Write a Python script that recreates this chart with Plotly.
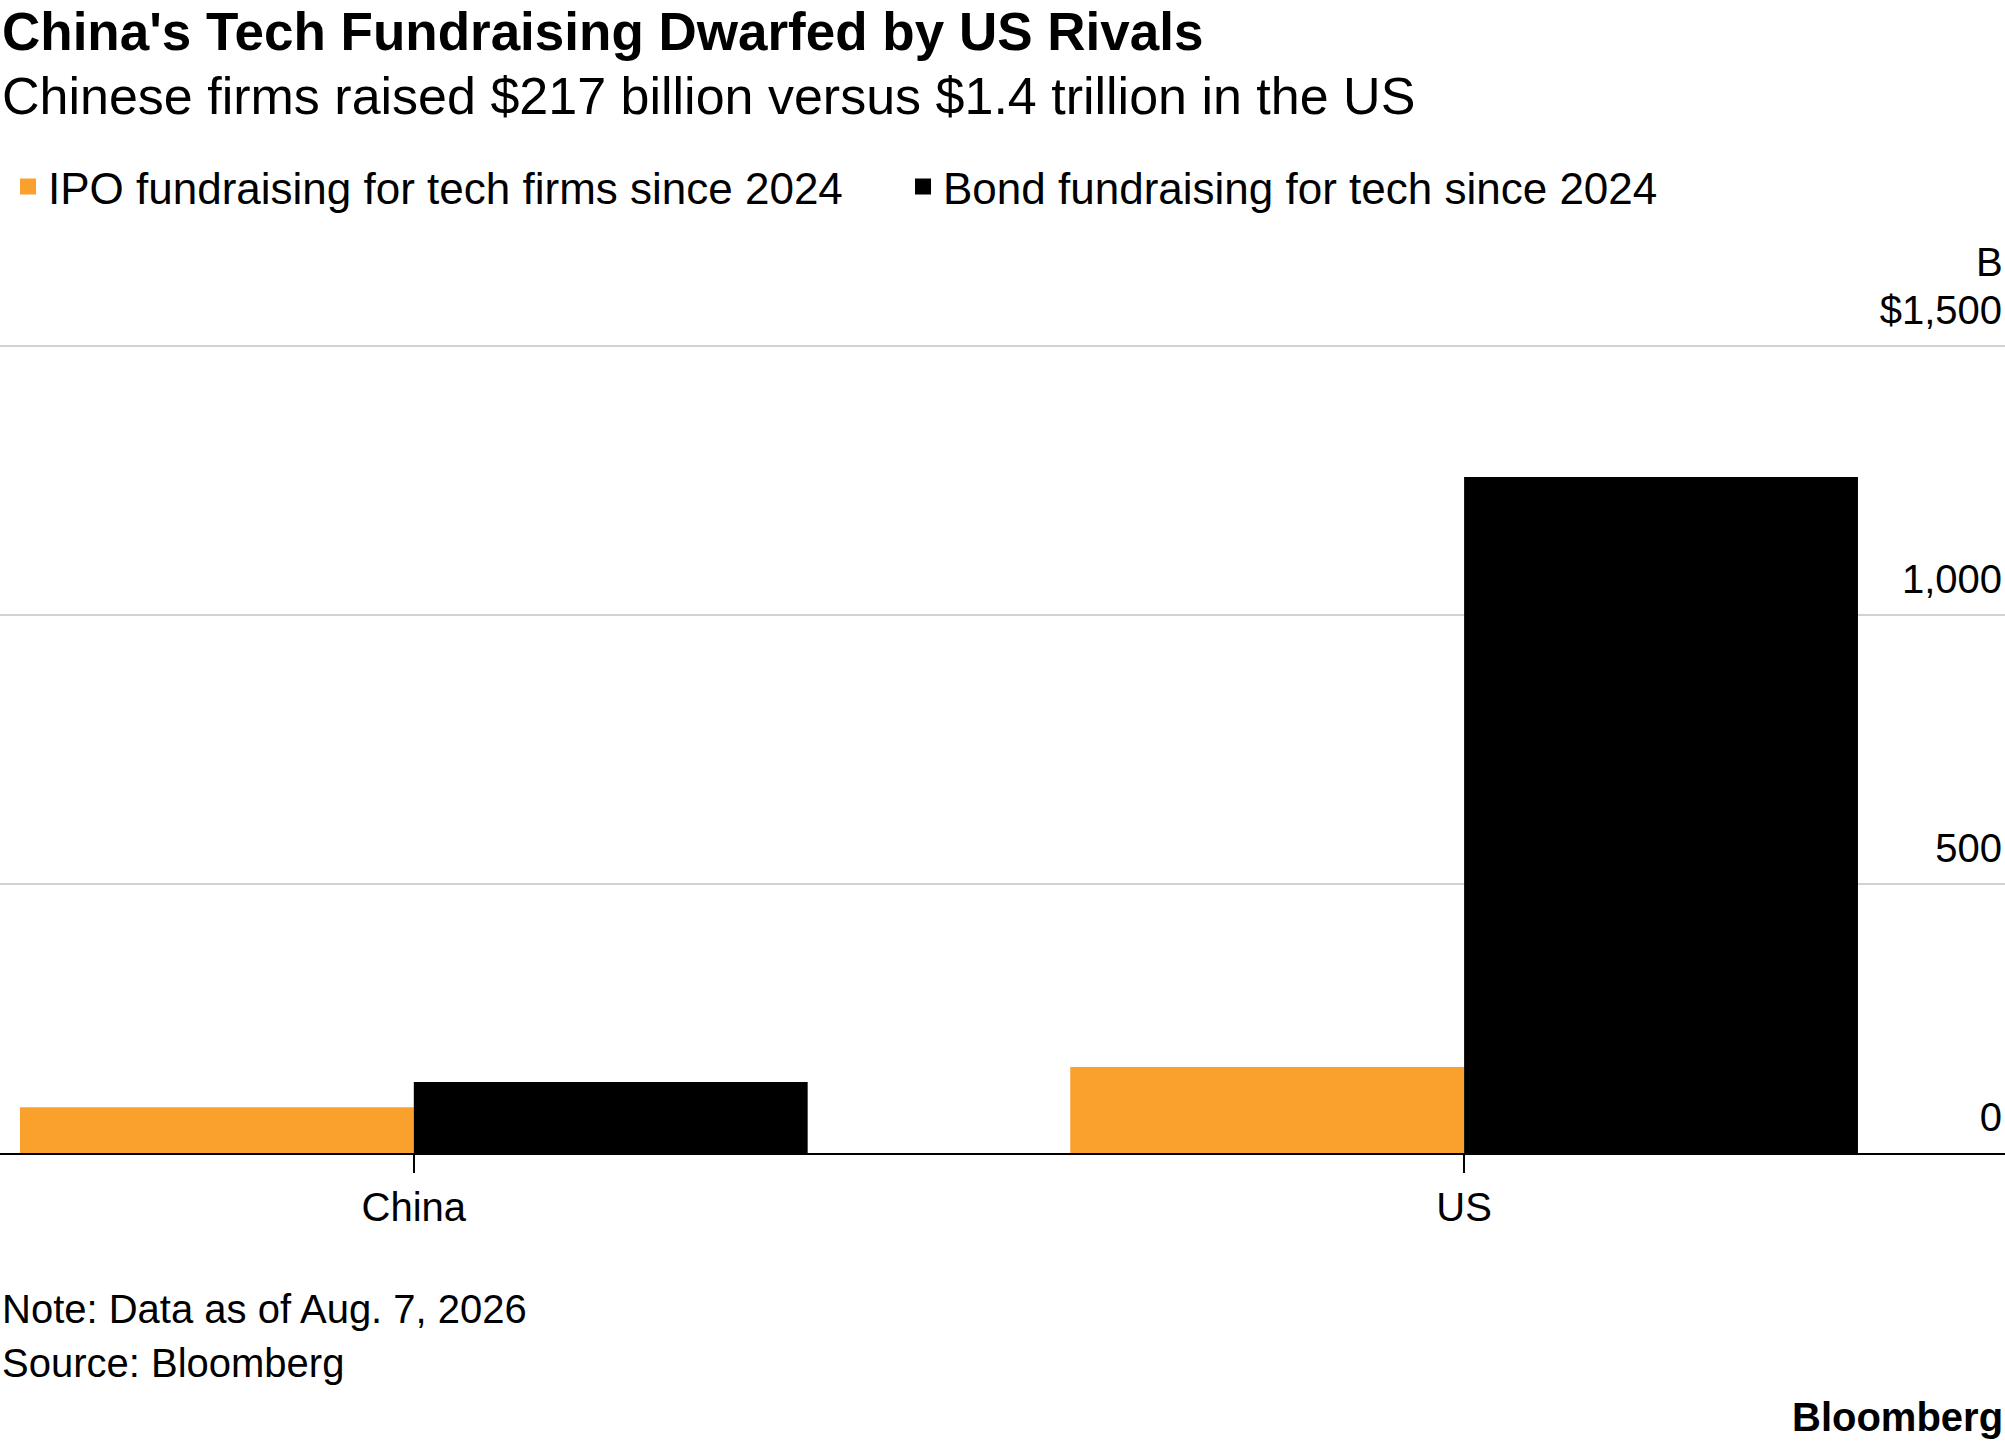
import plotly.graph_objects as go

# fundraising since 2024, USD billions
countries = ["China", "US"]
ipo_values = [85, 160]
bond_values = [132, 1256]

series_names = ["IPO fundraising for tech firms since 2024", "Bond fundraising for tech since 2024"]
series_colors = ["#FAA02D", "#000000"]

y_ticks = [0, 500, 1000, 1500]
y_tick_labels = ["0", "500", "1,000", "$1,500"]

FONT = "Liberation Sans, Arial, sans-serif"

fig = go.Figure()
for name, vals, color in zip(series_names, [ipo_values, bond_values], series_colors):
    fig.add_trace(go.Bar(x=countries, y=vals, name=name, showlegend=False,
                         marker=dict(color=color, line=dict(width=0))))
    # legend proxy, so the key gets a bigger square than the bar icon
    fig.add_trace(go.Scatter(x=[None], y=[None], mode="markers", name=name,
                             marker=dict(symbol="square", size=16, color=color)))

fig.update_layout(
    width=2005,
    height=1446,
    margin=dict(l=0, r=0, t=344, b=293),
    paper_bgcolor="white",
    plot_bgcolor="white",
    font=dict(family=FONT, color="black", size=40),
    barmode="group",
    bargap=0.25,
    bargroupgap=0,
    showlegend=True,
    legend=dict(
        orientation="h",
        x=0.004, xanchor="left",
        y=(1153 - 187) / 809, yanchor="middle",
        font=dict(size=44, color="black"),
        entrywidth=850,
        itemclick=False,
    ),
)

fig.update_xaxes(
    type="category",
    range=[-0.394, 1.515],
    showgrid=False,
    showline=True, linecolor="black", linewidth=2,
    ticks="outside", ticklen=18, tickwidth=2, tickcolor="black",
    tickfont=dict(size=40, color="black"),
)

fig.update_yaxes(
    range=[0, 1503],
    side="right",
    tickvals=y_ticks, ticktext=y_tick_labels,
    ticklabelposition="inside top",
    ticklabeloverflow="allow",
    ticklabelshift=-8,
    showgrid=True, gridcolor="#d2d2d2", gridwidth=2,
    zeroline=False, showline=False, ticks="",
    tickfont=dict(size=40, color="black"),
)

fig.add_annotation(text="<b>China's Tech Fundraising Dwarfed by US Rivals</b>", xref="paper", yref="paper",
                   x=0, y=(1153 - 32) / 809, xanchor="left", yanchor="middle", showarrow=False,
                   font=dict(size=53))
fig.add_annotation(text="Chinese firms raised $217 billion versus $1.4 trillion in the US", xref="paper", yref="paper",
                   x=0, y=(1153 - 96) / 809, xanchor="left", yanchor="middle", showarrow=False,
                   font=dict(size=52))
fig.add_annotation(text="B", xref="paper", yref="paper", x=1, y=(1153 - 262) / 809,
                   xanchor="right", yanchor="middle", showarrow=False, font=dict(size=40))
fig.add_annotation(text="Note: Data as of Aug. 7, 2026", xref="paper", yref="paper",
                   x=0, y=(1153 - 1309) / 809, xanchor="left", yanchor="middle", showarrow=False)
fig.add_annotation(text="Source: Bloomberg", xref="paper", yref="paper",
                   x=0, y=(1153 - 1363) / 809, xanchor="left", yanchor="middle", showarrow=False)
fig.add_annotation(text="<b>Bloomberg</b>", xref="paper", yref="paper",
                   x=1, y=(1153 - 1417) / 809, xanchor="right", yanchor="middle", showarrow=False)

fig.write_html("out.html", config={"displayModeBar": False},
               post_script="document.body.style.margin='0';")
